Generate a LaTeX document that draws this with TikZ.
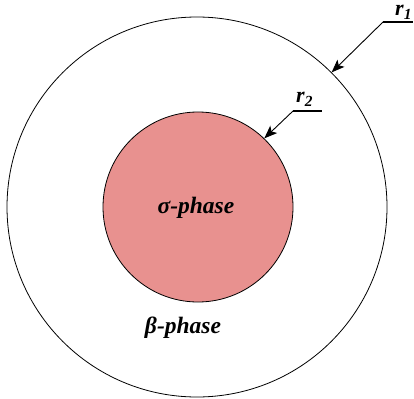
\documentclass[tikz,border=0pt]{standalone}
\usepackage{fontspec}
\usetikzlibrary{arrows.meta}
\setmainfont{Liberation Serif}
\definecolor{sigmapink}{RGB}{232,145,143}
\tikzset{
  phase/.style={font=\fontsize{23.5}{26}\selectfont\bfseries\itshape},
  radius label/.style={font=\fontsize{22}{24}\selectfont\bfseries\itshape,inner sep=0pt,
    text height=10pt,text depth=4pt,anchor=base west},
  leader/.style={line width=1.1pt},
  pointer/.style={-{Stealth[length=13pt,width=10pt,inset=3pt]},line width=0.9pt},
}
\begin{document}
\begin{tikzpicture}[x=1pt,y=-1pt]
    \useasboundingbox (0,0) rectangle (414,398);
    % phases
    \node[circle,draw,line width=0.8pt,minimum size=380pt,inner sep=0pt] (outer) at (197,207) {};
    \node[circle,draw,line width=0.8pt,fill=sigmapink,minimum size=190pt,inner sep=0pt] (inner) at (198,207) {};
    \node[phase] (sigma) at (196,208) {σ-phase};
    \node[phase] (beta) at (183,328) {β-phase};
    % radii
    \node[radius label] (r1) at (395,16) {r\textsubscript{1}};
    \coordinate (r1a) at (383,22);
    \coordinate (r1b) at (413,22);
    \draw[leader] (r1a) -- (r1b);
    \draw[pointer] (r1a) -- (outer.45);
    \node[radius label] (r2) at (296,103) {r\textsubscript{2}};
    \coordinate (r2a) at (293,111);
    \coordinate (r2b) at (322,111);
    \draw[leader] (r2a) -- (r2b);
    \draw[pointer] (r2a) -- (inner.46);
\end{tikzpicture}
\end{document}
